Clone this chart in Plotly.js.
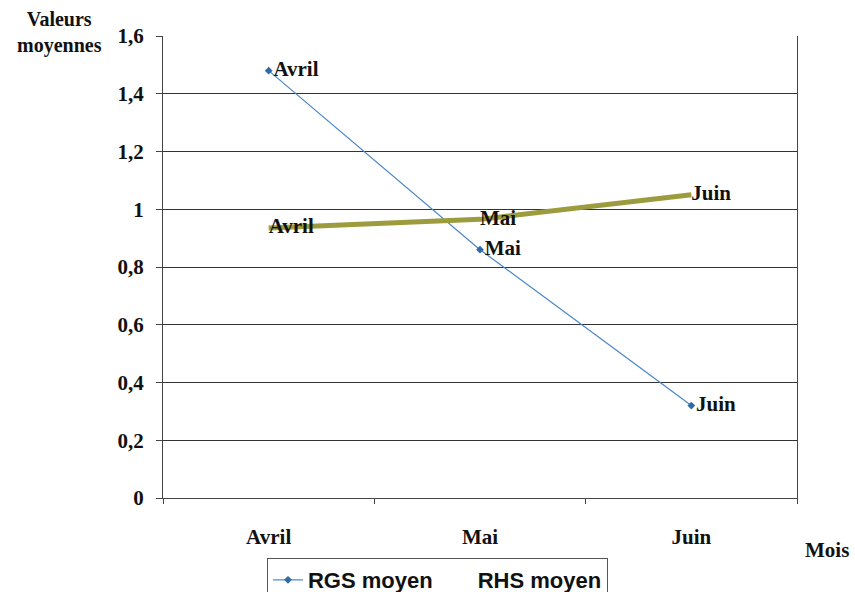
<!DOCTYPE html>
<html>
<head>
<meta charset="utf-8">
<script src="https://cdn.plot.ly/plotly-3.0.1.min.js"></script>
<style>html,body{margin:0;padding:0;background:#fff;}#chart{width:855px;height:592px;}</style>
</head>
<body>
<div id="chart"></div>
<script>
const months = ["Avril", "Mai", "Juin"];
const rgsValues = [1.48, 0.86, 0.32];
const rhsValues = [0.935, 0.965, 1.05];
const yTickVals = [0, 0.2, 0.4, 0.6, 0.8, 1, 1.2, 1.4, 1.6];
const yTickText = ["0", "0,2", "0,4", "0,6", "0,8", "1", "1,2", "1,4", "1,6"];

const SERIF = "Liberation Serif, Times New Roman, serif";
const labelFont = {family: SERIF, size: 21, color: "#111", weight: 700};

const traces = [
  {
    x: months, y: rgsValues, name: "RGS moyen", type: "scatter",
    mode: "lines+markers+text", text: months, textposition: "middle right",
    textfont: labelFont,
    line: {color: "#4a86c8", width: 1.2},
    marker: {symbol: "diamond", size: 6, color: "#2f6aa6"}
  },
  {
    x: months, y: rhsValues, name: "RHS moyen", type: "scatter",
    mode: "lines+text", text: months, textposition: "middle right",
    textfont: labelFont, showlegend: false,
    line: {color: "#9c9c3e", width: 5}
  },
  {
    x: [null], y: [null], name: "RHS moyen", type: "scatter", mode: "lines",
    line: {color: "rgba(0,0,0,0)", width: 0}, hoverinfo: "skip"
  }
];

const layout = {
  width: 855, height: 592,
  margin: {l: 163, r: 58, t: 36, b: 94, autoexpand: false},
  paper_bgcolor: "#fff", plot_bgcolor: "#fff",
  showlegend: true,
  xaxis: {
    type: "category", range: [-0.5, 2.5],
    showgrid: false, showline: true, linecolor: "#444", linewidth: 1,
    ticks: "outside", ticklen: 5, tickcolor: "#444", tickson: "boundaries",
    ticklabelstandoff: 20,
    tickfont: {family: SERIF, size: 21, color: "#111", weight: 700},
    zeroline: false, fixedrange: true, automargin: false
  },
  yaxis: {
    range: [0, 1.6], tickvals: yTickVals, ticktext: yTickText,
    showgrid: true, gridcolor: "#333", gridwidth: 1,
    showline: true, linecolor: "#444", linewidth: 1, mirror: true,
    ticks: "outside", ticklen: 6, tickcolor: "#444",
    ticklabelstandoff: 8,
    tickfont: {family: SERIF, size: 21, color: "#111", weight: 700},
    zeroline: false, fixedrange: true, automargin: false
  },
  legend: {
    orientation: "h", x: 0.164, xanchor: "left", y: -0.13, yanchor: "top",
    bordercolor: "#555", borderwidth: 1, bgcolor: "#fff",
    font: {family: "Liberation Sans, Arial, sans-serif", size: 22, color: "#111", weight: 700},
    itemwidth: 30
  },
  annotations: [
    {text: "Valeurs<br>moyennes", xref: "paper", yref: "paper", x: -0.163, y: 1.065,
     xanchor: "center", yanchor: "top", showarrow: false, align: "center",
     font: {family: SERIF, size: 20, color: "#111", weight: 700}},
    {text: "Mois", xref: "paper", yref: "paper", x: 1.048, y: -0.112,
     xanchor: "center", yanchor: "middle", showarrow: false,
     font: {family: SERIF, size: 21, color: "#111", weight: 700}}
  ]
};

Plotly.newPlot("chart", traces, layout, {displayModeBar: false, staticPlot: true});
</script>
</body>
</html>
